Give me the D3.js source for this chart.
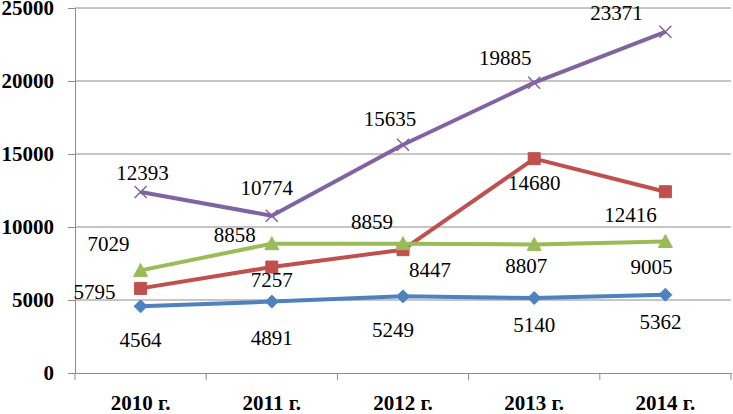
<!DOCTYPE html>
<html>
<head>
<meta charset="utf-8">
<script src="https://cdn.jsdelivr.net/npm/d3@7"></script>
<style>
  html, body { margin: 0; padding: 0; background: #fff; }
  svg { display: block; }
</style>
</head>
<body>
<script>
const YEARS = ["2010 г.", "2011 г.", "2012 г.", "2013 г.", "2014 г."]
const BLUE   = [4564, 4891, 5249, 5140, 5362]
const RED    = [5795, 7257, 8447, 14680, 12416]
const GREEN  = [7029, 8858, 8859, 8807, 9005]
const PURPLE = [12393, 10774, 15635, 19885, 23371]
const Y_TICKS = [0, 5000, 10000, 15000, 20000, 25000]

// label offsets from the marker (layout only)
const LABEL_OFFSETS = {
  blue:   [[0, 34], [0, 36], [-10, 34], [0, 27], [-5, 27]],
  red:    [[-46, 4], [0, 13], [27, 20], [0, 24], [-35, 23]],
  green:  [[-32, -26], [-37, -9], [-31, -22], [-8, 22], [-14, 25]],
  purple: [[2, -19], [-5, -28], [-13, -26], [-29, -25], [-49, -19]]
}

const series = [
  { key: "blue",   values: BLUE,   color: "#4F81BD", marker: "diamond" },
  { key: "red",    values: RED,    color: "#C0504D", marker: "square" },
  { key: "green",  values: GREEN,  color: "#9BBB59", marker: "triangle" },
  { key: "purple", values: PURPLE, color: "#8064A2", marker: "cross" }
]

const width = 733, height = 414
const margin = { top: 8, right: 2, bottom: 41, left: 75 }
const SERIF = '"Liberation Serif"'

const svg = d3.select("body").append("svg")
  .attr("width", width).attr("height", height)

const x = d3.scaleBand().domain(YEARS).range([margin.left, width - margin.right])
const y = d3.scaleLinear().domain([0, 25000]).range([height - margin.bottom, margin.top])
const cx = d => x(d) + x.bandwidth() / 2

// gridlines
svg.append("g").selectAll("line").data(Y_TICKS.slice(1)).join("line")
  .attr("x1", margin.left).attr("x2", width - margin.right)
  .attr("y1", d => y(d)).attr("y2", d => y(d))
  .attr("stroke", "#8c8c8c").attr("stroke-width", 1)

// y axis
const yAxis = svg.append("g")
  .attr("transform", `translate(${margin.left},0)`)
  .call(d3.axisLeft(y).tickValues(Y_TICKS).tickSize(7).tickPadding(14).tickFormat(d3.format("d")))
yAxis.select(".domain").attr("stroke", "#8c8c8c")
yAxis.selectAll(".tick line").attr("stroke", "#8c8c8c")
yAxis.selectAll("text")
  .style("font-family", SERIF).style("font-size", "21px").style("font-weight", "bold").attr("fill", "#000")

// x axis
const xAxis = svg.append("g")
  .attr("transform", `translate(0,${height - margin.bottom})`)
  .call(d3.axisBottom(x).tickSize(0).tickPadding(22))
xAxis.select(".domain").attr("stroke", "#8c8c8c")
xAxis.selectAll("text")
  .style("font-family", SERIF).style("font-size", "21px").style("font-weight", "bold").attr("fill", "#000")
// tick marks at category boundaries
const bounds = YEARS.map(d => x(d)).concat([x(YEARS[YEARS.length - 1]) + x.bandwidth()])
xAxis.selectAll(".bound").data(bounds).join("line")
  .attr("class", "bound")
  .attr("x1", d => d).attr("x2", d => d)
  .attr("y1", 0).attr("y2", 7)
  .attr("stroke", "#8c8c8c")

const line = d3.line().x((d, i) => cx(YEARS[i])).y(d => y(d))

function markerPath(type) {
  if (type === "diamond") return "M0,-6.5L6.5,0L0,6.5L-6.5,0Z"
  if (type === "square") return "M-6,-6H6V6H-6Z"
  if (type === "triangle") return "M0,-7L7,6H-7Z"
  return "M-6,-6L6,6M-6,6L6,-6"
}

series.forEach(s => {
  const g = svg.append("g")
  g.append("path")
    .datum(s.values)
    .attr("d", line)
    .attr("fill", "none")
    .attr("stroke", s.color)
    .attr("stroke-width", 4)
    .attr("stroke-linejoin", "round")

  g.selectAll(".mk").data(s.values).join("path")
    .attr("class", "mk")
    .attr("transform", (d, i) => `translate(${cx(YEARS[i])},${y(d)})`)
    .attr("d", markerPath(s.marker))
    .attr("fill", s.marker === "cross" ? "none" : s.color)
    .attr("stroke", s.color)
    .attr("stroke-width", s.marker === "cross" ? 1.5 : 1)
})

// data labels on top
series.forEach(s => {
  svg.append("g").selectAll("text").data(s.values).join("text")
    .attr("x", (d, i) => cx(YEARS[i]) + LABEL_OFFSETS[s.key][i][0])
    .attr("y", (d, i) => y(d) + LABEL_OFFSETS[s.key][i][1])
    .attr("text-anchor", "middle")
    .attr("dominant-baseline", "central")
    .style("font-family", SERIF)
    .style("font-size", "21px")
    .attr("fill", "#000")
    .text(d => d)
})
</script>
</body>
</html>
